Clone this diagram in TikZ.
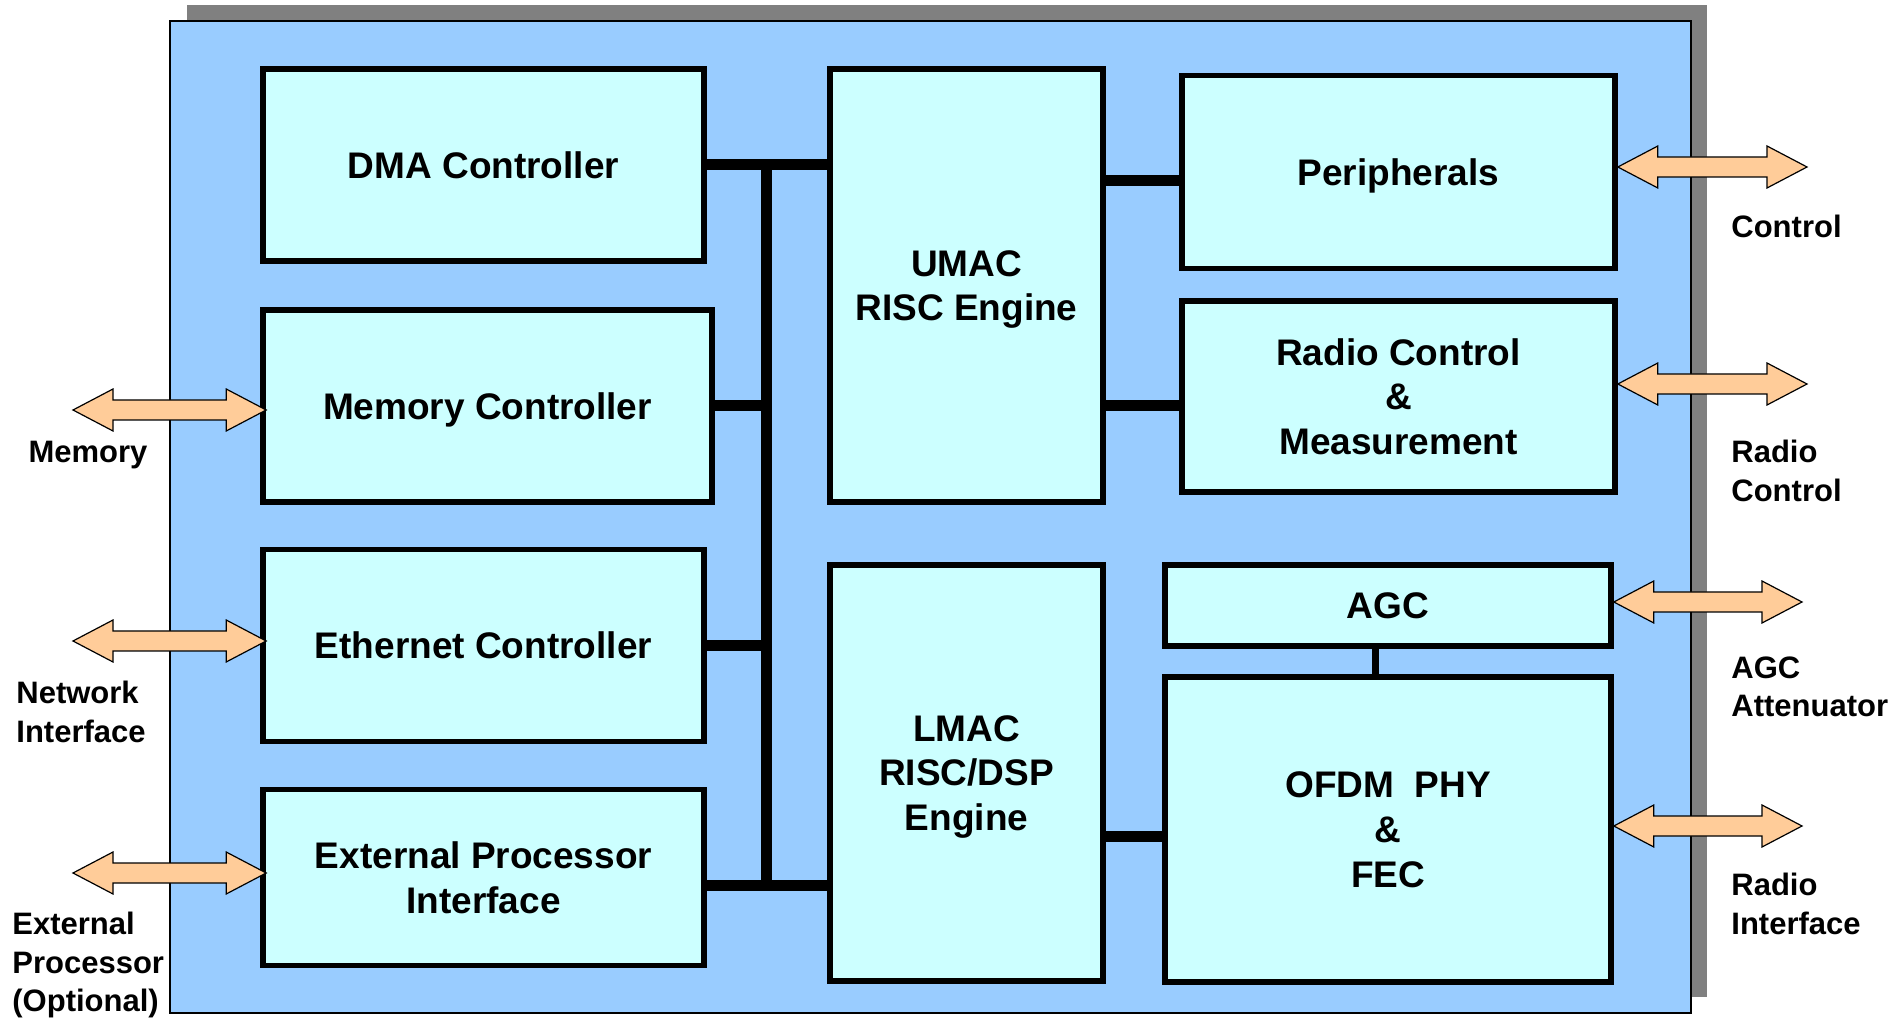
\documentclass[tikz,border=0pt]{standalone}
\usepackage{fontspec}
\setmainfont{Liberation Sans}
\usepackage{tikz}
\usetikzlibrary{calc,positioning}

\definecolor{bleufond}{HTML}{99CCFF}
\definecolor{cyanpale}{HTML}{CCFFFF}
\definecolor{peche}{HTML}{FFCC99}
\definecolor{grisombre}{HTML}{808080}

% fleche double entre deux points nommes (meme ordonnee)
\newcommand{\flechedouble}[2]{%
  \draw[fleche] (#1) -- ++(40,-21) -- ++(0,11) -- ($(#2)+(-40,-10)$) -- ++(0,-11) -- (#2)
    -- ++(-40,21) -- ++(0,-11) -- ($(#1)+(40,10)$) -- ++(0,11) -- cycle;}

\begin{document}
\begin{tikzpicture} [x=0.5pt, y=-0.5pt]
%styles des blocs, bus et etiquettes
\tikzset{bloc/.style={draw, line width=2.8pt, fill=cyanpale, inner sep=0pt, align=center,
    text depth=0pt, font=\fontsize{18.5}{22.3}\selectfont\bfseries}}
\tikzset{etiq/.style={inner sep=0pt, align=left, font=\fontsize{15.5}{19.25}\selectfont\bfseries}}
\tikzset{bus/.style={line width=5.5pt}}
\tikzset{lien/.style={line width=3.5pt}}
\tikzset{fleche/.style={draw=black, line width=0.6pt, fill=peche, line join=miter}}
\useasboundingbox (0,0) rectangle (1889,1020);
%fond et ombre
\fill[grisombre] (187,5) rectangle (1707,997);
\draw[fill=bleufond, line width=0.6pt] (170,21) rectangle (1691,1013);

%blocs de gauche
\node[bloc, minimum width=220.5pt, minimum height=96pt] (dma) at (483.5,165) {DMA Controller};
\node[bloc, minimum width=224.5pt, minimum height=96pt] (mem) at (487.5,406) {Memory Controller};
\node[bloc, minimum width=220.5pt, minimum height=96pt] (eth) at (483.5,645.5) {Ethernet Controller};
\node[bloc, minimum width=220.5pt, minimum height=88pt] (ext) at (483.5,877.5) {External Processor\\Interface};
%processeurs
\node[bloc, minimum width=136.5pt, minimum height=216.5pt] (umac) at (966.5,285.5) {UMAC\\RISC Engine};
\node[bloc, minimum width=136.5pt, minimum height=208pt] (lmac) at (966.5,773) {LMAC\\RISC/DSP\\Engine};
%blocs de droite
\node[bloc, minimum width=216.5pt, minimum height=96.5pt] (periph) at (1398.5,172) {Peripherals};
\node[bloc, minimum width=216.5pt, minimum height=95.5pt] (radio) at (1398.5,396.5) {Radio Control\\\&\\Measurement};
\node[bloc, minimum width=223pt, minimum height=40.5pt] (agc) at (1388,605.5) {AGC};
\node[bloc, minimum width=223pt, minimum height=152.5pt] (ofdm) at (1388,829.5) {OFDM\ \ PHY\\\&\\FEC};

%bus interne
\coordinate (bushaut) at (766,165);
\coordinate (busbas) at (766,885);
\coordinate (yperiph) at (0,181);
\coordinate (yradio) at (0,406);
\coordinate (yofdm) at (0,836);
\coordinate (xagc) at (1375,0);
\draw[bus] (bushaut) -- (busbas);
\draw[bus] (dma.east) -- (umac.west |- dma.east);
\draw[bus] (mem.east) -- (mem.east -| bushaut);
\draw[bus] (eth.east) -- (eth.east -| bushaut);
\draw[bus] (ext.east |- busbas) -- (lmac.west |- busbas);
\draw[bus] (umac.east |- yperiph) -- (periph.west |- yperiph);
\draw[bus] (umac.east |- yradio) -- (radio.west |- yradio);
\draw[bus] (lmac.east |- yofdm) -- (ofdm.west |- yofdm);
\draw[lien] (agc.south -| xagc) -- (ofdm.north -| xagc);

%ports externes
\coordinate (pmem) at (73,410);
\coordinate (preseau) at (73,641);
\coordinate (pext) at (73,873);
\coordinate (memd) at ($(mem.west |- pmem)+(6,0)$);
\coordinate (ethd) at ($(eth.west |- preseau)+(6,0)$);
\coordinate (extd) at ($(ext.west |- pext)+(6,0)$);
\coordinate (pctrl) at (1807,167);
\coordinate (pradio) at (1807,384);
\coordinate (pagc) at (1802,602);
\coordinate (pif) at (1802,826);
\coordinate (periphg) at (periph.east |- pctrl);
\coordinate (radiog) at (radio.east |- pradio);
\coordinate (agcg) at (agc.east |- pagc);
\coordinate (ofdmg) at (ofdm.east |- pif);
\flechedouble{pmem}{memd}
\flechedouble{preseau}{ethd}
\flechedouble{pext}{extd}
\flechedouble{periphg}{pctrl}
\flechedouble{radiog}{pradio}
\flechedouble{agcg}{pagc}
\flechedouble{ofdmg}{pif}

%etiquettes
\node[etiq] (lmem) at (88,455) {Memory};
\node[etiq, anchor=west] (lreseau) at (16,712) {Network\\Interface};
\node[etiq, anchor=west] (lext) at (12,965) {External\\Processor\\(Optional)};
\node[etiq, anchor=west] (lctrl) at (1731,226) {Control};
\node[etiq, anchor=west] (lradio) at (1731,471) {Radio\\Control};
\node[etiq, anchor=west] (lagc) at (1731,687) {AGC\\Attenuator};
\node[etiq, anchor=west] (lif) at (1731,904) {Radio\\Interface};
\end{tikzpicture}
\end{document}
